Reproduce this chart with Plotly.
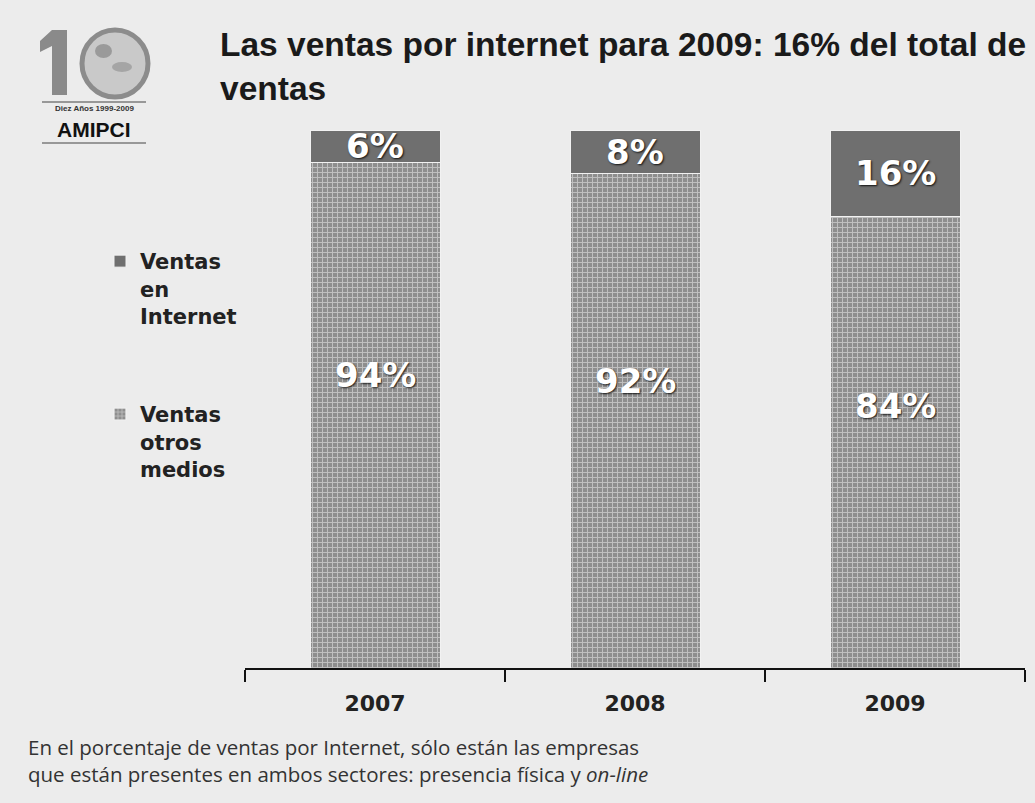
import plotly.graph_objects as go

# Sales split by channel (percent of total sales)
years = ["2007", "2008", "2009"]
internet = [6, 8, 16]
otros_medios = [94, 92, 84]

W, H = 1035, 803
ML, MR, MT, MB = 245, 10, 130, 135
PW, PH = W - ML - MR, H - MT - MB


def px(x):
    """Pixel x -> paper x."""
    return (x - ML) / PW


def py(y):
    """Pixel y (from top) -> paper y."""
    return (H - MB - y) / PH


DARK = "#6f6f6f"
GRID_BG = "#8e8e8e"

fig = go.Figure()

fig.add_trace(go.Bar(
    x=years, y=otros_medios, name="Ventas<br>otros<br>medios",
    legendgroup="otros", legendrank=2,
    marker=dict(color=GRID_BG,
                pattern=dict(shape="+", fgcolor="#f4f4f4", bgcolor=GRID_BG,
                             size=5, solidity=0.35),
                line=dict(color="#f2f2f2", width=1)),
))
fig.add_trace(go.Bar(
    x=years, y=internet, name="Ventas<br>en<br>Internet",
    legendgroup="internet", legendrank=1,
    marker=dict(color=DARK, line=dict(color="#f2f2f2", width=1)),
))

label_font = dict(family="DejaVu Sans", size=34, color="white", weight="bold",
                  shadow="1px 1px 2px rgba(0,0,0,0.85)")
annotations = []
for i, (a, b) in enumerate(zip(internet, otros_medios)):
    annotations.append(dict(x=i, y=b + a / 2, xref="x", yref="y",
                            xanchor="center", yanchor="middle",
                            text=f"{a}%", showarrow=False, font=label_font))
    annotations.append(dict(x=i, y=b * 0.58, xref="x", yref="y",
                            xanchor="center", yanchor="middle",
                            text=f"{b}%", showarrow=False, font=label_font))

# title
annotations.append(dict(
    x=px(218), y=py(24), xref="paper", yref="paper", xanchor="left", yanchor="top",
    align="left", showarrow=False,
    text="Las ventas por internet para 2009: 16% del total de<br>ventas",
    font=dict(family="Liberation Sans", size=33.5, color="#1a1a1a", weight="bold"),
))

# footnote
annotations.append(dict(
    x=px(26), y=py(731), xref="paper", yref="paper", xanchor="left", yanchor="top",
    align="left", showarrow=False,
    text="En el porcentaje de ventas por Internet, sólo están las empresas<br>"
         "que están presentes en ambos sectores: presencia física y <i>on-line</i>",
    font=dict(family="Open Sans", size=20.5, color="#333333"),
))

# AMIPCI logo
annotations += [
    dict(x=px(94), y=py(109), xref="paper", yref="paper", text="Diez Años 1999-2009",
         xanchor="center", yanchor="middle", showarrow=False,
         font=dict(family="Liberation Sans", size=8, color="#333", weight="bold")),
    dict(x=px(94), y=py(129), xref="paper", yref="paper", text="AMIPCI",
         xanchor="center", yanchor="middle", showarrow=False,
         font=dict(family="Liberation Sans", size=21, color="#111", weight="bold")),
]


def logo_path(points):
    return "M " + " L ".join(f"{px(x):.5f},{py(y):.5f}" for x, y in points) + " Z"


shapes = [
    # the "1" of the anniversary mark
    dict(type="path", xref="paper", yref="paper",
         path=logo_path([(52, 30), (67, 30), (67, 95), (52, 95), (52, 46), (40, 52), (40, 41)]),
         fillcolor="#8a8a8a", line=dict(width=0)),
    # globe forming the "0"
    dict(type="circle", xref="paper", yref="paper",
         x0=px(82), x1=px(148), y0=py(97), y1=py(30),
         fillcolor="#c9c9c9", line=dict(color="#8c8c8c", width=5)),
    dict(type="circle", xref="paper", yref="paper",
         x0=px(95), x1=px(112), y0=py(58), y1=py(44),
         fillcolor="#9a9a9a", line=dict(width=0)),
    dict(type="circle", xref="paper", yref="paper",
         x0=px(112), x1=px(132), y0=py(72), y1=py(62),
         fillcolor="#a5a5a5", line=dict(width=0)),
    dict(type="line", xref="paper", yref="paper",
         x0=px(42), x1=px(146), y0=py(102), y1=py(102),
         line=dict(color="#444", width=1)),
    dict(type="line", xref="paper", yref="paper",
         x0=px(42), x1=px(146), y0=py(143), y1=py(143),
         line=dict(color="#444", width=1)),
]

fig.update_layout(
    width=W, height=H,
    margin=dict(l=ML, r=MR, t=MT, b=MB),
    paper_bgcolor="#ececec", plot_bgcolor="rgba(0,0,0,0)",
    barmode="stack", bargap=0.5,
    xaxis=dict(
        type="category",
        showline=True, linecolor="#111111", linewidth=2,
        ticks="outside", tickson="boundaries", ticklen=12, tickcolor="#111111",
        tickwidth=1.5, ticklabelstandoff=15,
        tickfont=dict(family="DejaVu Sans", size=22, color="#222222", weight="bold"),
        showgrid=False, zeroline=False,
    ),
    yaxis=dict(range=[0, 100], showticklabels=False, ticks="", showgrid=False,
               zeroline=False, showline=False),
    showlegend=True,
    legend=dict(
        x=px(100), y=py(241), xanchor="left", yanchor="top",
        traceorder="grouped", tracegroupgap=68, valign="top",
        bgcolor="rgba(0,0,0,0)", borderwidth=0,
        font=dict(family="DejaVu Sans", size=21, color="#222222", weight="bold"),
    ),
    annotations=annotations,
    shapes=shapes,
)

fig.write_html("out.html")
